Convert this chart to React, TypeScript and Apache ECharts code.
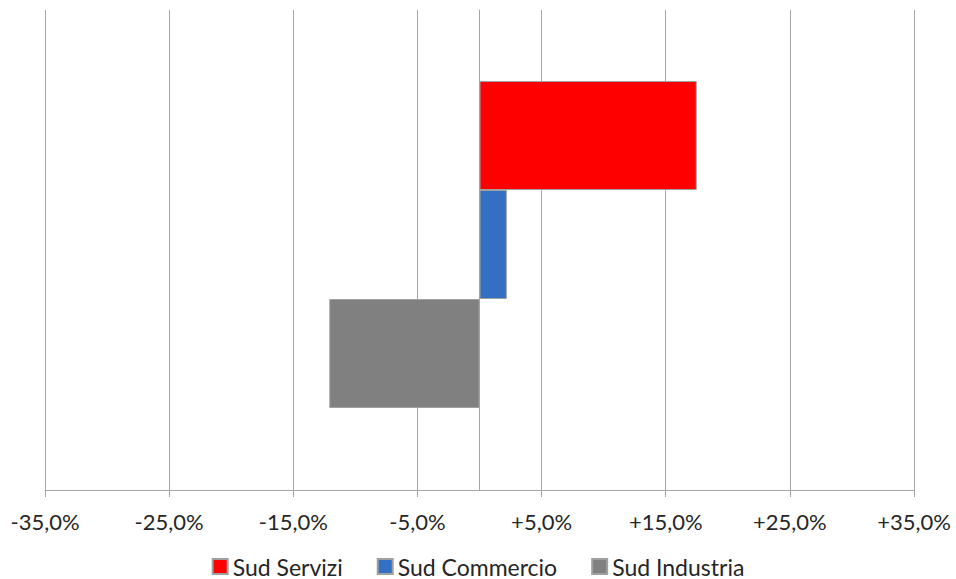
import React, { useEffect, useRef } from "react";
import * as echarts from "echarts";

const seriesNames = ["Sud Servizi", "Sud Commercio", "Sud Industria"];
const seriesValues = [17.5, 2.2, -12.1];
const seriesColors = ["#ff0000", "#3370c4", "#808080"];
const categories = [""];
const axisMin = -35;
const axisMax = 35;
const axisInterval = 10;

const fmt = (v: number) =>
  (v > 0 ? "+" : "") + v.toFixed(1).replace(".", ",") + "%";

export default function App() {
  const ref = useRef<HTMLDivElement>(null);
  useEffect(() => {
    if (!ref.current) return;
    const chart = echarts.init(ref.current, undefined, { renderer: "svg" });
    const font = "Lato, 'Open Sans', sans-serif";
    chart.setOption({
      animation: false,
      textStyle: { fontFamily: font },
      legend: {
        data: seriesNames,
        left: "center",
        top: 555,
        padding: 0,
        itemWidth: 15,
        itemHeight: 15,
        itemGap: 34,
        icon: "rect",
        textStyle: { fontSize: 23, color: "#262626", fontFamily: font },
      },
      grid: [
        { left: 45, right: 42, top: 10, bottom: 89 },
        { left: 45, right: 42, top: 10, bottom: 100 },
      ],
      xAxis: [
        {
          gridIndex: 0,
          type: "value",
          min: axisMin,
          max: axisMax,
          interval: axisInterval,
          splitLine: { show: true, lineStyle: { color: "#a6a6a6", width: 1 } },
          axisLine: { show: true, onZero: false, lineStyle: { color: "#a6a6a6" } },
          axisTick: { show: true, length: 7, lineStyle: { color: "#a6a6a6" } },
          axisLabel: {
            formatter: fmt,
            fontSize: 22,
            color: "#262626",
            margin: 20,
            fontFamily: font,
          },
        },
        {
          gridIndex: 1,
          type: "value",
          min: axisMin,
          max: axisMax,
          interval: axisInterval,
          show: false,
          splitLine: { show: false },
        },
      ],
      yAxis: [
        {
          gridIndex: 0,
          type: "category",
          data: categories,
          axisLine: { show: true, onZero: true, lineStyle: { color: "#a6a6a6" } },
          axisTick: { show: false },
          axisLabel: { show: false },
        },
        {
          gridIndex: 1,
          type: "category",
          data: categories,
          inverse: true,
          show: false,
        },
      ],
      series: seriesNames.map((name, i) => ({
        name,
        type: "bar",
        xAxisIndex: 1,
        yAxisIndex: 1,
        data: [seriesValues[i]],
        barWidth: 109,
        barGap: "0%",
        itemStyle: {
          color: seriesColors[i],
          borderColor: "#a0a0a0",
          borderWidth: 1,
        },
      })),
    });
    return () => chart.dispose();
  }, []);
  return <div ref={ref} style={{ width: 956, height: 579, position: "absolute", left: 0, top: 0 }} />;
}
